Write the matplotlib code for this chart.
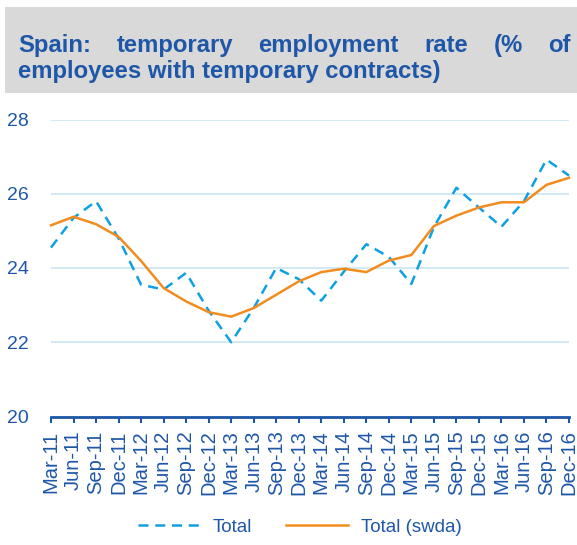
import matplotlib
matplotlib.use("Agg")
import matplotlib.pyplot as plt
from matplotlib.patches import Rectangle

# datos (% asalariados con contrato temporal)
trimestres = ["Mar-11", "Jun-11", "Sep-11", "Dec-11", "Mar-12", "Jun-12", "Sep-12", "Dec-12",
              "Mar-13", "Jun-13", "Sep-13", "Dec-13", "Mar-14", "Jun-14", "Sep-14", "Dec-14",
              "Mar-15", "Jun-15", "Sep-15", "Dec-15", "Mar-16", "Jun-16", "Sep-16", "Dec-16"]
total = [24.55, 25.35, 25.8, 24.8, 23.55, 23.42, 23.87, 22.85,
         22.0, 22.92, 24.0, 23.7, 23.12, 23.9, 24.64, 24.3,
         23.57, 25.1, 26.16, 25.63, 25.11, 25.8, 26.92, 26.49]
total_swda = [25.15, 25.38, 25.18, 24.84, 24.19, 23.46, 23.1, 22.81,
              22.69, 22.92, 23.28, 23.64, 23.89, 23.98, 23.89, 24.2,
              24.35, 25.13, 25.41, 25.63, 25.77, 25.77, 26.24, 26.43]
yticks = [20, 22, 24, 26, 28]

AZUL = "#1f57a8"
CIAN = "#0ea0e2"
NARANJA = "#f28c1e"
GRID = "#cfe8f5"

plt.rcParams['font.family'] = ['Liberation Sans', 'DejaVu Sans']

W, H = 577, 545
fig = plt.figure(figsize=(W / 100, H / 100), dpi=100)

# caja gris del titulo
fig.patches.append(Rectangle((5 / W, 1 - 93 / H), (W - 5) / W, 86 / H,
                             transform=fig.transFigure, facecolor="#d9d9d9",
                             edgecolor="none", zorder=0))

# titulo justificado: primera linea repartida entre 18 y 571 px
renderer = fig.canvas.get_renderer()
palabras = ["Spain:", "temporary", "employment", "rate", "(%", "of"]
estilo = dict(fontsize=17.2, fontweight="bold", color=AZUL, va="baseline")
textos = [fig.text(0, 1 - 52 / H, p, **estilo) for p in palabras]
anchos = [t.get_window_extent(renderer).width for t in textos]
x0, x1 = 18, 571
hueco = (x1 - x0 - sum(anchos)) / (len(palabras) - 1)
x = x0
for t, a in zip(textos, anchos):
    t.set_x(x / W)
    x += a + hueco
fig.text(x0 / W, 1 - 78 / H, "employees with temporary contracts)", **estilo)

# area del grafico
izq, der, arriba, abajo = 51, 569, 119.5, 416.5
ax = fig.add_axes([izq / W, 1 - abajo / H, (der - izq) / W, (abajo - arriba) / H])
xs = list(range(len(trimestres)))
ax.plot(xs, total, color=CIAN, lw=1.8, linestyle=(0, (4, 2.7)), label="Total",
        solid_capstyle="butt", dash_capstyle="butt", clip_on=False, zorder=3)
ax.plot(xs, total_swda, color=NARANJA, lw=1.8, label="Total (swda)", clip_on=False, zorder=4)

ax.set_xlim(0, len(trimestres) - 1)
ax.set_ylim(20, 28)
ax.set_yticks(yticks)
ax.set_xticks(xs)
ax.set_xticklabels(trimestres, rotation=90, fontsize=14.5, color=AZUL)
ax.tick_params(axis="y", length=0, pad=16, labelsize=14, labelcolor=AZUL)
ax.tick_params(axis="x", length=4, width=1.5, color=AZUL, pad=6, direction="out")
for s in ["left", "right", "top"]:
    ax.spines[s].set_visible(False)
ax.spines["bottom"].set_color(AZUL)
ax.spines["bottom"].set_linewidth(2)
ax.yaxis.grid(True, color=GRID, lw=1.3)
ax.set_axisbelow(True)

ax.legend(loc="center", bbox_to_anchor=(300 / W, 1 - 527 / H), bbox_transform=fig.transFigure,
          ncol=2, frameon=False, fontsize=13.5, labelcolor=AZUL, handlelength=3.3,
          handletextpad=0.7, columnspacing=1.8)

fig.savefig("out.png", dpi=100)
